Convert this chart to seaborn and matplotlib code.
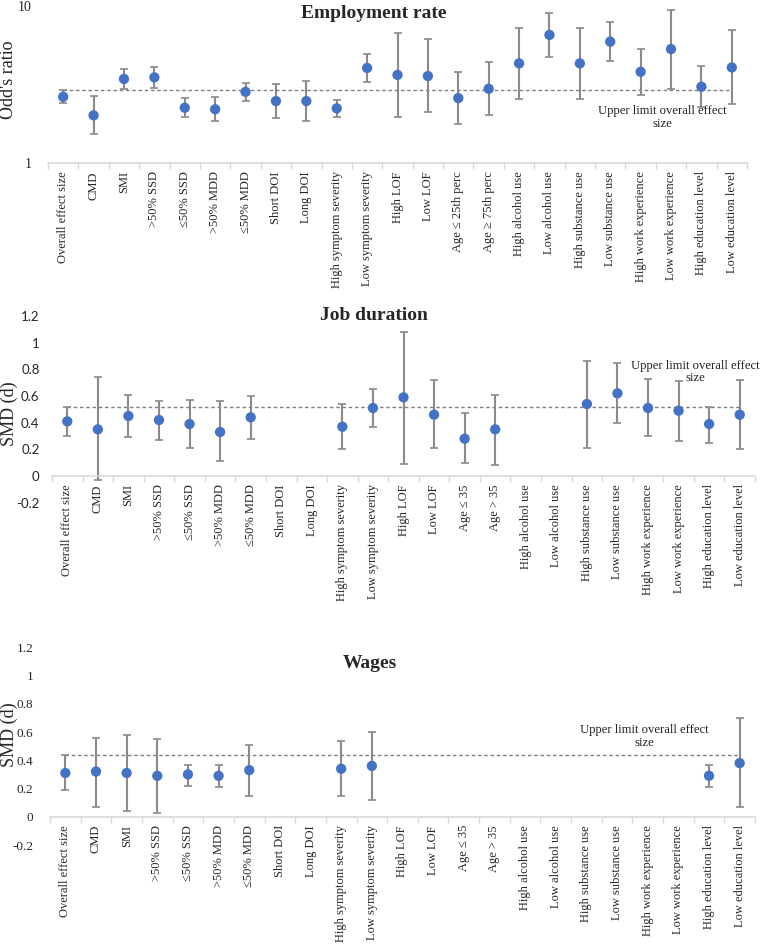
import numpy as np
import pandas as pd
import matplotlib
matplotlib.use("Agg")
import matplotlib.pyplot as plt
from matplotlib.ticker import FixedLocator, NullFormatter, NullLocator
import seaborn as sns

# --- Data ---

CATS_EMP = ["Overall effect size", "CMD", "SMI", ">50% SSD", "\u226450% SSD",
            ">50% MDD", "\u226450% MDD", "Short DOI", "Long DOI",
            "High symptom severity", "Low symptom severity", "High LOF", "Low LOF",
            "Age \u2264 25th perc", "Age \u2265 75th perc", "High alcohol use",
            "Low alcohol use", "High substance use", "Low substance use",
            "High work experience", "Low work experience",
            "High education level", "Low education level"]
CATS_SMD = CATS_EMP[:13] + ["Age \u2264 35", "Age > 35"] + CATS_EMP[15:]

# Employment rate (odds ratio)
emp_est = [2.64, 2.01, 3.43, 3.51, 2.25, 2.20, 2.84, 2.48, 2.48, 2.23, 4.03,
           3.64, 3.58, 2.59, 2.97, 4.31, 6.54, 4.31, 5.93, 3.81, 5.32, 3.06, 4.06]
emp_lo = [2.40, 1.52, 2.95, 3.02, 1.97, 1.85, 2.49, 1.94, 1.85, 1.96, 3.30,
          1.97, 2.10, 1.76, 2.01, 2.57, 4.73, 2.57, 4.44, 2.72, 2.97, 2.26, 2.37]
emp_hi = [2.93, 2.66, 3.95, 4.09, 2.58, 2.62, 3.23, 3.17, 3.34, 2.52, 4.92,
          6.70, 6.14, 3.80, 4.38, 7.24, 8.99, 7.24, 7.94, 5.35, 9.43, 4.16, 7.03]
emp_limit = 2.93

# Job duration (SMD)
nan = np.nan
job_est = [0.41, 0.35, 0.45, 0.42, 0.39, 0.33, 0.44, nan, nan, 0.37, 0.51,
           0.59, 0.46, 0.28, 0.35, nan, nan, 0.54, 0.62, 0.51, 0.49, 0.39, 0.46]
job_lo = [0.30, -0.03, 0.29, 0.27, 0.21, 0.11, 0.28, nan, nan, 0.20, 0.37,
          0.09, 0.21, 0.10, 0.08, nan, nan, 0.21, 0.40, 0.30, 0.26, 0.25, 0.20]
job_hi = [0.52, 0.74, 0.61, 0.56, 0.57, 0.56, 0.60, nan, nan, 0.54, 0.65,
          1.08, 0.72, 0.47, 0.61, nan, nan, 0.86, 0.85, 0.73, 0.71, 0.52, 0.72]
job_limit = 0.52

# Wages (SMD)
wag_est = [0.31, 0.32, 0.31, 0.29, 0.30, 0.29, 0.33, nan, nan, 0.34, 0.36,
           nan, nan, nan, nan, nan, nan, nan, nan, nan, nan, 0.29, 0.38]
wag_lo = [0.19, 0.07, 0.04, 0.03, 0.22, 0.21, 0.15, nan, nan, 0.15, 0.12,
          nan, nan, nan, nan, nan, nan, nan, nan, nan, nan, 0.21, 0.07]
wag_hi = [0.44, 0.56, 0.58, 0.55, 0.37, 0.37, 0.51, nan, nan, 0.54, 0.60,
          nan, nan, nan, nan, nan, nan, nan, nan, nan, nan, 0.37, 0.70]
wag_limit = 0.44

SMD_TICKS = [-0.2, 0, 0.2, 0.4, 0.6, 0.8, 1, 1.2]
SMD_TICKLABELS = ["-0.2", "0", "0.2", "0.4", "0.6", "0.8", "1", "1.2"]
NOTE = "Upper limit overall effect\nsize"

BLUE = "#4472C4"
ERR = "#8a8a8a"
AXIS = "#d9d9d9"
SERIF = ["Liberation Serif", "DejaVu Serif"]

sns.set_style("white")
plt.rcParams["font.family"] = SERIF

fig = plt.figure(figsize=(7.63, 9.44), dpi=100)


def draw_panel(ax, cats, est, lo, hi, limit, zero_axis=False):
    df = pd.DataFrame({"pos": np.arange(len(cats)), "cat": cats,
                       "est": est, "lo": lo, "hi": hi}).dropna()
    ax.errorbar(df["pos"], df["est"],
                yerr=[df["est"] - df["lo"], df["hi"] - df["est"]],
                fmt="none", ecolor=ERR, elinewidth=1.5, capsize=3,
                capthick=1.2, zorder=2)
    sns.scatterplot(data=df, x="pos", y="est", color=BLUE, s=55,
                    edgecolor="none", zorder=3, ax=ax, legend=False)
    ax.plot([0, len(cats) - 1], [limit, limit], color="#7f7f7f",
            lw=1.0, ls=(0, (2.5, 2)), zorder=1)
    if zero_axis:
        # x axis sits on y = 0 (resets ticks, so do it first)
        ax.spines["bottom"].set_position(("data", 0))
    ax.set_xlim(-0.5, len(cats) - 0.5)
    ax.set_xticks(np.arange(len(cats)))
    ax.set_xticklabels(cats, rotation=90, fontsize=9.0, va="top")
    ax.xaxis.set_minor_locator(FixedLocator(np.arange(len(cats) + 1) - 0.5))
    ax.tick_params(axis="x", which="major", length=0, pad=6)
    ax.tick_params(axis="x", which="minor", length=4, color=AXIS, width=1,
                   direction="out", bottom=True)
    ax.tick_params(axis="y", length=0, pad=9)
    for s in ["top", "right", "left"]:
        ax.spines[s].set_visible(False)
    ax.spines["bottom"].set_color(AXIS)
    ax.spines["bottom"].set_linewidth(1.2)
    ax.set_xlabel("")
    ax.patch.set_alpha(0)


# --- Employment rate ---
ax1 = fig.add_axes([48 / 763, 1 - 163 / 944, 699 / 763, 157 / 944])
draw_panel(ax1, CATS_EMP, emp_est, emp_lo, emp_hi, emp_limit)
ax1.set_yscale("log")
ax1.set_ylim(1, 10)
ax1.yaxis.set_major_locator(FixedLocator([1, 10]))
ax1.yaxis.set_minor_locator(NullLocator())
ax1.yaxis.set_minor_formatter(NullFormatter())
ax1.set_yticklabels(["1", "10"], fontsize=10)
ax1.tick_params(axis="y", length=0, pad=12)
ax1.set_ylabel("Odd's ratio", fontsize=13)
ax1.yaxis.set_label_coords(-0.045, 0.53)
ax1.text(19.7, 1.96, NOTE, ha="center", va="center", fontsize=9.1,
         color="#222222", linespacing=1.1)
fig.text(374 / 763, 1 - 14 / 944, "Employment rate", ha="center",
         va="center", fontsize=14, fontweight="bold")

# --- Job duration ---
ax2 = fig.add_axes([52 / 763, 1 - 502.7 / 944, 703 / 763, 186.7 / 944])
draw_panel(ax2, CATS_SMD, job_est, job_lo, job_hi, job_limit, zero_axis=True)
ax2.set_ylim(-0.2, 1.2)
ax2.set_yticks(SMD_TICKS)
ax2.set_yticklabels(SMD_TICKLABELS, fontsize=9.5, family=["Lato", "DejaVu Sans"])
ax2.set_ylabel("SMD (d)", fontsize=13)
ax2.yaxis.set_label_coords(-0.048, 0.475)
ax2.text(20.55, 0.78, NOTE, ha="center", va="center", fontsize=9.1,
         color="#222222", linespacing=1.1)
fig.text(374 / 763, 1 - 316 / 944, "Job duration", ha="center",
         va="center", fontsize=14, fontweight="bold")

# --- Wages ---
ax3 = fig.add_axes([50 / 763, 1 - 845 / 944, 705 / 763, 197.7 / 944])
draw_panel(ax3, CATS_SMD, wag_est, wag_lo, wag_hi, wag_limit, zero_axis=True)
ax3.set_ylim(-0.2, 1.2)
ax3.set_yticks(SMD_TICKS)
ax3.set_yticklabels(SMD_TICKLABELS, fontsize=9.5)
ax3.tick_params(axis="y", pad=12)
ax3.set_ylabel("SMD (d)", fontsize=13)
ax3.yaxis.set_label_coords(-0.045, 0.556)
ax3.text(18.9, 0.57, NOTE, ha="center", va="center", fontsize=9.1,
         color="#222222", linespacing=1.1)
fig.text(370 / 763, 1 - 663 / 944, "Wages", ha="center",
         va="center", fontsize=14, fontweight="bold")

fig.savefig("out.png", dpi=100, facecolor="white")
